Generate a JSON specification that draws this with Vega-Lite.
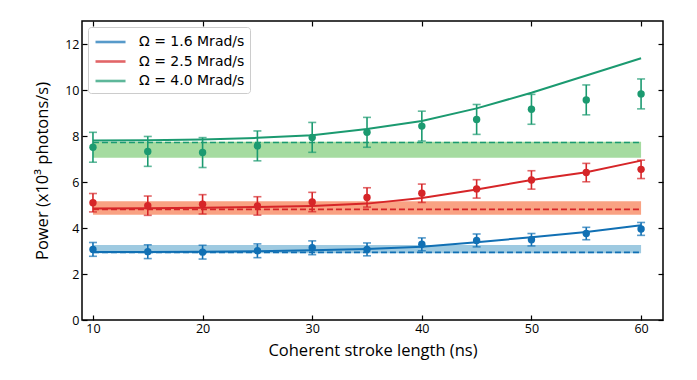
{
  "$schema": "https://vega.github.io/schema/vega-lite/v6.json",
  "autosize": {"type": "none"},
  "width": 581,
  "height": 299,
  "padding": {"left": 82, "top": 21, "right": 34, "bottom": 60},
  "background": "white",
  "config": {
    "view": {"stroke": "black", "strokeWidth": 1.5},
    "font": "Open Sans"
  },
  "data": {
    "values": [
      {"s": "Ω = 1.6 Mrad/s", "x": 10, "p": 3.07, "lo": 2.77, "hi": 3.37, "m": 2.96, "b": 2.94, "bl": 2.9, "bh": 3.26},
      {"s": "Ω = 1.6 Mrad/s", "x": 15, "p": 2.97, "lo": 2.67, "hi": 3.27, "m": 2.96, "b": 2.94, "bl": 2.9, "bh": 3.26},
      {"s": "Ω = 1.6 Mrad/s", "x": 20, "p": 2.95, "lo": 2.65, "hi": 3.25, "m": 2.97, "b": 2.94, "bl": 2.9, "bh": 3.26},
      {"s": "Ω = 1.6 Mrad/s", "x": 25, "p": 3.01, "lo": 2.71, "hi": 3.31, "m": 2.99, "b": 2.94, "bl": 2.9, "bh": 3.26},
      {"s": "Ω = 1.6 Mrad/s", "x": 30, "p": 3.14, "lo": 2.84, "hi": 3.44, "m": 3.03, "b": 2.94, "bl": 2.9, "bh": 3.26},
      {"s": "Ω = 1.6 Mrad/s", "x": 35, "p": 3.07, "lo": 2.79, "hi": 3.35, "m": 3.09, "b": 2.94, "bl": 2.9, "bh": 3.26},
      {"s": "Ω = 1.6 Mrad/s", "x": 40, "p": 3.29, "lo": 3.01, "hi": 3.57, "m": 3.19, "b": 2.94, "bl": 2.9, "bh": 3.26},
      {"s": "Ω = 1.6 Mrad/s", "x": 45, "p": 3.46, "lo": 3.18, "hi": 3.74, "m": 3.38, "b": 2.94, "bl": 2.9, "bh": 3.26},
      {"s": "Ω = 1.6 Mrad/s", "x": 50, "p": 3.49, "lo": 3.22, "hi": 3.76, "m": 3.6, "b": 2.94, "bl": 2.9, "bh": 3.26},
      {"s": "Ω = 1.6 Mrad/s", "x": 55, "p": 3.76, "lo": 3.49, "hi": 4.03, "m": 3.83, "b": 2.94, "bl": 2.9, "bh": 3.26},
      {"s": "Ω = 1.6 Mrad/s", "x": 60, "p": 3.96, "lo": 3.68, "hi": 4.24, "m": 4.12, "b": 2.94, "bl": 2.9, "bh": 3.26},
      {"s": "Ω = 2.5 Mrad/s", "x": 10, "p": 5.10, "lo": 4.7, "hi": 5.5, "m": 4.85, "b": 4.81, "bl": 4.58, "bh": 5.16},
      {"s": "Ω = 2.5 Mrad/s", "x": 15, "p": 4.97, "lo": 4.55, "hi": 5.39, "m": 4.86, "b": 4.81, "bl": 4.58, "bh": 5.16},
      {"s": "Ω = 2.5 Mrad/s", "x": 20, "p": 5.03, "lo": 4.61, "hi": 5.45, "m": 4.88, "b": 4.81, "bl": 4.58, "bh": 5.16},
      {"s": "Ω = 2.5 Mrad/s", "x": 25, "p": 4.96, "lo": 4.56, "hi": 5.36, "m": 4.91, "b": 4.81, "bl": 4.58, "bh": 5.16},
      {"s": "Ω = 2.5 Mrad/s", "x": 30, "p": 5.13, "lo": 4.71, "hi": 5.55, "m": 4.96, "b": 4.81, "bl": 4.58, "bh": 5.16},
      {"s": "Ω = 2.5 Mrad/s", "x": 35, "p": 5.33, "lo": 4.91, "hi": 5.75, "m": 5.06, "b": 4.81, "bl": 4.58, "bh": 5.16},
      {"s": "Ω = 2.5 Mrad/s", "x": 40, "p": 5.51, "lo": 5.11, "hi": 5.91, "m": 5.30, "b": 4.81, "bl": 4.58, "bh": 5.16},
      {"s": "Ω = 2.5 Mrad/s", "x": 45, "p": 5.70, "lo": 5.3, "hi": 6.1, "m": 5.67, "b": 4.81, "bl": 4.58, "bh": 5.16},
      {"s": "Ω = 2.5 Mrad/s", "x": 50, "p": 6.09, "lo": 5.69, "hi": 6.49, "m": 6.09, "b": 4.81, "bl": 4.58, "bh": 5.16},
      {"s": "Ω = 2.5 Mrad/s", "x": 55, "p": 6.41, "lo": 6.01, "hi": 6.81, "m": 6.42, "b": 4.81, "bl": 4.58, "bh": 5.16},
      {"s": "Ω = 2.5 Mrad/s", "x": 60, "p": 6.55, "lo": 6.15, "hi": 6.95, "m": 6.93, "b": 4.81, "bl": 4.58, "bh": 5.16},
      {"s": "Ω = 4.0 Mrad/s", "x": 10, "p": 7.51, "lo": 6.86, "hi": 8.16, "m": 7.8, "b": 7.72, "bl": 7.05, "bh": 7.75},
      {"s": "Ω = 4.0 Mrad/s", "x": 15, "p": 7.33, "lo": 6.68, "hi": 7.98, "m": 7.82, "b": 7.72, "bl": 7.05, "bh": 7.75},
      {"s": "Ω = 4.0 Mrad/s", "x": 20, "p": 7.28, "lo": 6.63, "hi": 7.93, "m": 7.85, "b": 7.72, "bl": 7.05, "bh": 7.75},
      {"s": "Ω = 4.0 Mrad/s", "x": 25, "p": 7.57, "lo": 6.92, "hi": 8.22, "m": 7.92, "b": 7.72, "bl": 7.05, "bh": 7.75},
      {"s": "Ω = 4.0 Mrad/s", "x": 30, "p": 7.94, "lo": 7.29, "hi": 8.59, "m": 8.03, "b": 7.72, "bl": 7.05, "bh": 7.75},
      {"s": "Ω = 4.0 Mrad/s", "x": 35, "p": 8.16, "lo": 7.51, "hi": 8.81, "m": 8.3, "b": 7.72, "bl": 7.05, "bh": 7.75},
      {"s": "Ω = 4.0 Mrad/s", "x": 40, "p": 8.43, "lo": 7.78, "hi": 9.08, "m": 8.65, "b": 7.72, "bl": 7.05, "bh": 7.75},
      {"s": "Ω = 4.0 Mrad/s", "x": 45, "p": 8.72, "lo": 8.07, "hi": 9.37, "m": 9.2, "b": 7.72, "bl": 7.05, "bh": 7.75},
      {"s": "Ω = 4.0 Mrad/s", "x": 50, "p": 9.16, "lo": 8.51, "hi": 9.81, "m": 9.88, "b": 7.72, "bl": 7.05, "bh": 7.75},
      {"s": "Ω = 4.0 Mrad/s", "x": 55, "p": 9.57, "lo": 8.92, "hi": 10.22, "m": 10.63, "b": 7.72, "bl": 7.05, "bh": 7.75},
      {"s": "Ω = 4.0 Mrad/s", "x": 60, "p": 9.83, "lo": 9.18, "hi": 10.48, "m": 11.38, "b": 7.72, "bl": 7.05, "bh": 7.75}
    ]
  },
  "resolve": {"axis": {"x": "independent", "y": "independent"}},
  "layer": [
    {
      "mark": {"type": "area", "opacity": 1},
      "encoding": {
        "x": {"field": "x", "type": "quantitative", "scale": {"domain": [9, 62], "nice": false, "zero": false},
          "axis": {"values": [10, 20, 30, 40, 50, 60], "title": "Coherent stroke length (ns)", "titleFontSize": 16.5, "titleFontWeight": "normal", "titleColor": "black", "titlePadding": 8, "labelFontSize": 12.5, "labelColor": "black", "tickSize": -5, "tickColor": "black", "tickWidth": 1.2, "labelPadding": 7, "domain": false, "grid": false}},
        "y": {"field": "bl", "type": "quantitative", "scale": {"domain": [0, 13], "nice": false},
          "axis": {"values": [0, 2, 4, 6, 8, 10, 12], "title": "Power (x10³ photons/s)", "titleFontSize": 16.5, "titleFontWeight": "normal", "titleColor": "black", "titlePadding": 14, "labelFontSize": 12.5, "labelColor": "black", "tickSize": -5, "tickColor": "black", "tickWidth": 1.2, "labelPadding": 8, "domain": false, "grid": false}},
        "y2": {"field": "bh"},
        "fill": {"field": "s", "type": "nominal", "scale": {"range": ["#9ecae1", "#f9a283", "#a5dba0"]}, "legend": null}
      }
    },
    {
      "mark": {"type": "line", "strokeDash": [6, 3], "strokeWidth": 1.6},
      "encoding": {
        "x": {"field": "x", "type": "quantitative", "axis": {"orient": "top", "values": [10, 20, 30, 40, 50, 60], "labels": false, "title": null, "tickSize": -5, "tickColor": "black", "tickWidth": 1.2, "domain": false, "grid": false}},
        "y": {"field": "b", "type": "quantitative", "axis": {"orient": "right", "values": [0, 2, 4, 6, 8, 10, 12], "labels": false, "title": null, "tickSize": -5, "tickColor": "black", "tickWidth": 1.2, "domain": false, "grid": false}},
        "color": {"field": "s", "type": "nominal"}
      }
    },
    {
      "mark": {"type": "line", "strokeWidth": 2},
      "encoding": {
        "x": {"field": "x", "type": "quantitative", "axis": null},
        "y": {"field": "m", "type": "quantitative", "axis": null},
        "color": {"field": "s", "type": "nominal", "title": null,
          "scale": {"range": ["#1170b4", "#d62528", "#1b9a70"]},
          "legend": {"orient": "top-left", "offset": 6, "symbolType": "M-0.88,0H2.65", "symbolSize": 289, "symbolStrokeWidth": 2.6, "symbolOpacity": 1, "symbolFillColor": "transparent", "labelFontSize": 14, "labelFont": "DejaVu Sans", "labelColor": "black", "fillColor": "white", "strokeColor": "#cccccc", "cornerRadius": 3, "padding": 5, "rowPadding": 2.5, "labelOffset": 26}}
      }
    },
    {
      "mark": {"type": "rule", "strokeWidth": 1.6},
      "encoding": {
        "x": {"field": "x", "type": "quantitative", "axis": null},
        "y": {"field": "lo", "type": "quantitative", "axis": null},
        "y2": {"field": "hi"},
        "color": {"field": "s", "type": "nominal"}
      }
    },
    {
      "mark": {"type": "tick", "orient": "horizontal", "size": 8, "thickness": 1.6},
      "encoding": {
        "x": {"field": "x", "type": "quantitative", "axis": null},
        "y": {"field": "lo", "type": "quantitative", "axis": null},
        "color": {"field": "s", "type": "nominal"}
      }
    },
    {
      "mark": {"type": "tick", "orient": "horizontal", "size": 8, "thickness": 1.6},
      "encoding": {
        "x": {"field": "x", "type": "quantitative", "axis": null},
        "y": {"field": "hi", "type": "quantitative", "axis": null},
        "color": {"field": "s", "type": "nominal"}
      }
    },
    {
      "mark": {"type": "circle", "size": 55, "opacity": 1},
      "encoding": {
        "x": {"field": "x", "type": "quantitative", "axis": null},
        "y": {"field": "p", "type": "quantitative", "axis": null},
        "color": {"field": "s", "type": "nominal"}
      }
    }
  ]
}
